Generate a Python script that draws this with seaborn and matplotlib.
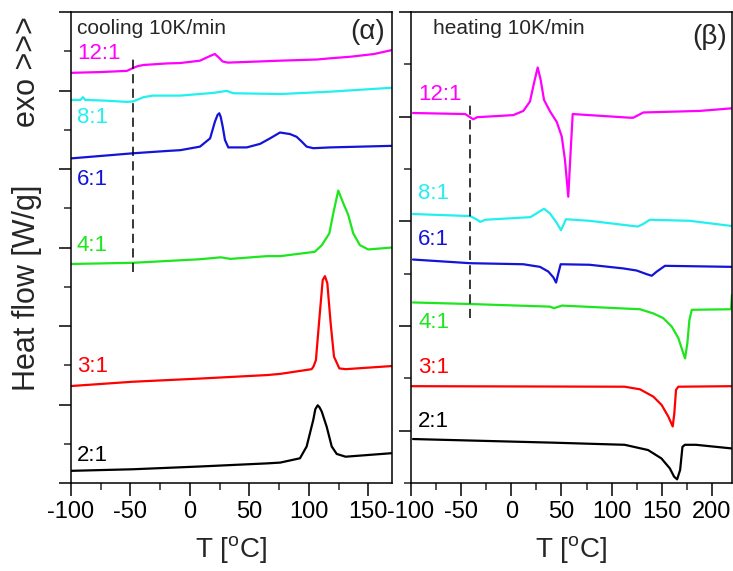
import matplotlib
matplotlib.use("Agg")
import matplotlib.pyplot as plt
from matplotlib.ticker import MultipleLocator, FixedLocator
import seaborn as sns
import pandas as pd

# ---------------- cooling scans (10 K/min) ----------------
cool_T_12 = [-100, -75, -53, -48, -44, -39, -19, -8, 8.5, 17, 21, 24, 27.5, 32, 76, 107, 118,
             135, 155, 170]
cool_hf_12 = [10.45, 10.47, 10.50, 10.57, 10.62, 10.65, 10.69, 10.70, 10.76, 10.88, 10.93, 10.85,
              10.74, 10.71, 10.76, 10.79, 10.82, 10.86, 10.93, 11.03]

cool_T_8 = [-100, -92, -90, -88, -70, -53, -48, -43, -39, -31, -8, 20, 31, 36.5, 76, 118, 170]
cool_hf_8 = [9.76, 9.76, 9.83, 9.76, 9.74, 9.71, 9.72, 9.78, 9.83, 9.87, 9.87, 9.94, 9.99, 9.93,
             9.91, 9.97, 10.07]

cool_T_6 = [-100, -48, -19, -8, 8.5, 17, 21, 23.3, 24.7, 25.9, 27.6, 29.5, 32.3, 47.8, 59, 67.4,
            75.8, 84.2, 89.8, 94, 98.2, 103.8, 118, 170]
cool_hf_6 = [8.27, 8.40, 8.46, 8.48, 8.57, 8.78, 9.20, 9.38, 9.42, 9.33, 9.08, 8.74, 8.55, 8.55,
             8.64, 8.78, 8.93, 8.89, 8.82, 8.70, 8.57, 8.53, 8.55, 8.59]

cool_T_4 = [-100, -48, 8, 26, 34, 65, 76, 105, 111, 117.3, 120.6, 124.8, 129, 133.2, 137.4, 143,
            150, 170]
cool_hf_4 = [5.58, 5.61, 5.70, 5.75, 5.71, 5.78, 5.78, 5.89, 6.06, 6.36, 6.87, 7.45, 7.13, 6.83,
             6.36, 6.06, 5.95, 6.00]

cool_T_3 = [-100, -48, 8, 65, 76, 102.4, 104, 106, 108.8, 111.7, 113.6, 115.6, 118.4, 121.2,
            125.7, 131, 170]
cool_hf_3 = [2.47, 2.58, 2.66, 2.75, 2.78, 2.90, 2.97, 3.13, 4.15, 5.17, 5.27, 5.09, 4.07, 3.22,
             2.92, 2.90, 2.98]

cool_T_2 = [-100, -48, 8, 65, 76, 92.6, 98.2, 103.8, 105.5, 107.5, 109, 110.9, 115.1, 119.3,
            123.5, 131, 170]
cool_hf_2 = [0.31, 0.35, 0.42, 0.50, 0.52, 0.63, 0.93, 1.61, 1.88, 1.98, 1.93, 1.82, 1.43, 0.93,
             0.74, 0.67, 0.76]

# ---------------- heating scans (10 K/min) ----------------
heat_T_12 = [-98, -46, -38, -34, 2, 12, 18.6, 22.6, 26.3, 29.3, 32.6, 38.6, 45.3, 50.3, 53.5,
             56.8, 59.2, 61.2, 118.3, 121.6, 131.6, 188, 220]
heat_hf_12 = [7.07, 7.05, 6.95, 6.99, 7.03, 7.11, 7.29, 7.64, 7.94, 7.70, 7.32, 7.10, 6.90, 6.62,
              6.17, 5.47, 6.36, 7.05, 6.98, 6.98, 7.08, 7.11, 7.16]

heat_T_8 = [-98, -41, -34, -31, -26, 19, 25, 32.6, 38.6, 45.3, 49.5, 51.9, 54.5, 78, 126, 131.6,
            138, 178, 220]
heat_hf_8 = [5.14, 5.10, 5.03, 4.99, 5.03, 5.08, 5.15, 5.24, 5.15, 4.97, 4.83, 4.93, 5.04, 5.01,
             4.90, 4.95, 5.03, 5.01, 4.91]

heat_T_6 = [-98, -41, 12, 28.6, 36.9, 41.9, 44.6, 46.9, 49.2, 78, 111.7, 125, 135, 140, 145,
            153.2, 220]
heat_hf_6 = [4.27, 4.20, 4.18, 4.13, 4.04, 3.93, 3.83, 4.01, 4.18, 4.17, 4.10, 4.06, 3.99, 3.96,
             4.04, 4.15, 4.13]

heat_T_4 = [-98, -41, 38.5, 42.5, 50.5, 128.3, 141.6, 151.5, 159.9, 166.5, 170.9, 173.2, 175.5,
            177.5, 179.9, 219, 220]
heat_hf_4 = [3.45, 3.42, 3.37, 3.34, 3.39, 3.32, 3.24, 3.15, 2.99, 2.77, 2.51, 2.38, 2.67, 3.11,
             3.31, 3.32, 3.60]

heat_T_3 = [-100, 113, 128.3, 141.6, 149.9, 156.5, 160.9, 162.5, 164.2, 166.5, 220]
heat_hf_3 = [1.85, 1.84, 1.79, 1.65, 1.49, 1.27, 1.08, 1.33, 1.78, 1.84, 1.85]

heat_T_2 = [-98, 43, 113, 136.3, 149.6, 158, 162.3, 165.3, 168.3, 170.6, 173, 184, 220]
heat_hf_2 = [0.84, 0.77, 0.73, 0.63, 0.47, 0.28, 0.12, 0.07, 0.25, 0.69, 0.73, 0.73, 0.66]

ratios = ["12:1", "8:1", "6:1", "4:1", "3:1", "2:1"]
colors = ["#FF00FF", "#22F0F0", "#1414D8", "#1EE61E", "#FF0000", "#000000"]

# label heights (W/g, offset scale) for the ratio tags
cool_label_y = [10.93, 9.32, 7.72, 6.06, 2.98, 0.71]
heat_label_y = [7.43, 5.54, 4.66, 3.06, 2.20, 1.18]

# glass-transition guide lines: (T, y_start, y_end)
cool_tg = (-48, 5.38, 10.83)
heat_tg = (-41, 3.15, 7.22)

cool_x = [cool_T_12, cool_T_8, cool_T_6, cool_T_4, cool_T_3, cool_T_2]
cool_y = [cool_hf_12, cool_hf_8, cool_hf_6, cool_hf_4, cool_hf_3, cool_hf_2]
heat_x = [heat_T_12, heat_T_8, heat_T_6, heat_T_4, heat_T_3, heat_T_2]
heat_y = [heat_hf_12, heat_hf_8, heat_hf_6, heat_hf_4, heat_hf_3, heat_hf_2]


def to_frame(xs, ys):
    rows = []
    for name, tx, hy in zip(ratios, xs, ys):
        for t, h in zip(tx, hy):
            rows.append({"T": t, "hf": h, "ratio": name})
    return pd.DataFrame(rows)


cool_df = to_frame(cool_x, cool_y)
heat_df = to_frame(heat_x, heat_y)

sns.set_theme(style="ticks")
plt.rcParams["font.family"] = ["Liberation Sans", "DejaVu Sans"]
plt.rcParams["mathtext.fontset"] = "custom"
plt.rcParams["mathtext.rm"] = "Liberation Sans"
plt.rcParams["axes.unicode_minus"] = False
plt.rcParams["axes.linewidth"] = 1.1
plt.rcParams["lines.solid_joinstyle"] = "round"

fig = plt.figure(figsize=(7.33, 5.71), dpi=100)
ax1 = fig.add_axes([71 / 733, 88 / 571, 321 / 733, 471 / 571])
ax2 = fig.add_axes([411 / 733, 88 / 571, 321 / 733, 471 / 571])

palette = dict(zip(ratios, colors))
for ax, df in ((ax1, cool_df), (ax2, heat_df)):
    sns.lineplot(data=df, x="T", y="hf", hue="ratio", palette=palette, hue_order=ratios,
                 estimator=None, sort=False, lw=1.6, legend=False, ax=ax)

ax1.set_xlim(-100, 170)
ax1.set_ylim(0, 12)
ax2.set_xlim(-100, 220)
ax2.set_ylim(0, 9)

ax1.xaxis.set_major_locator(MultipleLocator(50))
ax1.xaxis.set_minor_locator(MultipleLocator(25))
ax1.yaxis.set_major_locator(MultipleLocator(2))
ax1.yaxis.set_minor_locator(MultipleLocator(1))
ax2.xaxis.set_major_locator(MultipleLocator(50))
ax2.xaxis.set_minor_locator(MultipleLocator(25))
ax2.yaxis.set_major_locator(FixedLocator([1, 3, 5, 7, 9]))
ax2.yaxis.set_minor_locator(FixedLocator([0, 2, 4, 6, 8]))

for ax in (ax1, ax2):
    ax.tick_params(which="major", direction="out", length=9, width=1.1,
                   labelsize=17, pad=4, colors="black")
    ax.tick_params(which="minor", direction="out", length=5, width=1.1)
    ax.tick_params(axis="y", labelleft=False)
    ax.set_ylabel("")
    ax.set_xlabel(r"T [$^{\mathrm{o}}$C]", fontsize=20, labelpad=8)
    for s in ax.spines.values():
        s.set_visible(True)
        s.set_linewidth(1.1)
        s.set_color("black")

# ratio tags
for name, c, ly in zip(ratios, colors, cool_label_y):
    ax1.text(-95, ly, name, color=c, fontsize=16, ha="left", va="center")
for name, c, ly in zip(ratios, colors, heat_label_y):
    ax2.text(-93, ly, name, color=c, fontsize=16, ha="left", va="center")

# dashed guides
ax1.plot([cool_tg[0], cool_tg[0]], [cool_tg[1], cool_tg[2]], color="black", lw=1.1,
         ls=(0, (6, 3.5)))
ax2.plot([heat_tg[0], heat_tg[0]], [heat_tg[1], heat_tg[2]], color="black", lw=1.1,
         ls=(0, (6, 3.5)))

ax1.text(0.019, 0.966, "cooling 10K/min", transform=ax1.transAxes, fontsize=15,
         ha="left", va="center")
ax1.text(0.978, 0.958, "(α)", transform=ax1.transAxes, fontsize=20, ha="right", va="center")
ax2.text(0.069, 0.964, "heating 10K/min", transform=ax2.transAxes, fontsize=15,
         ha="left", va="center")
ax2.text(0.984, 0.947, "(β)", transform=ax2.transAxes, fontsize=20, ha="right", va="center")

fig.text(27 / 733, 1 - 72 / 571, "exo >>>", rotation=90, fontsize=22, ha="center", va="center")
fig.text(27 / 733, 1 - 288 / 571, "Heat flow [W/g]", rotation=90, fontsize=22,
         ha="center", va="center")

fig.savefig("out.png", dpi=100)
